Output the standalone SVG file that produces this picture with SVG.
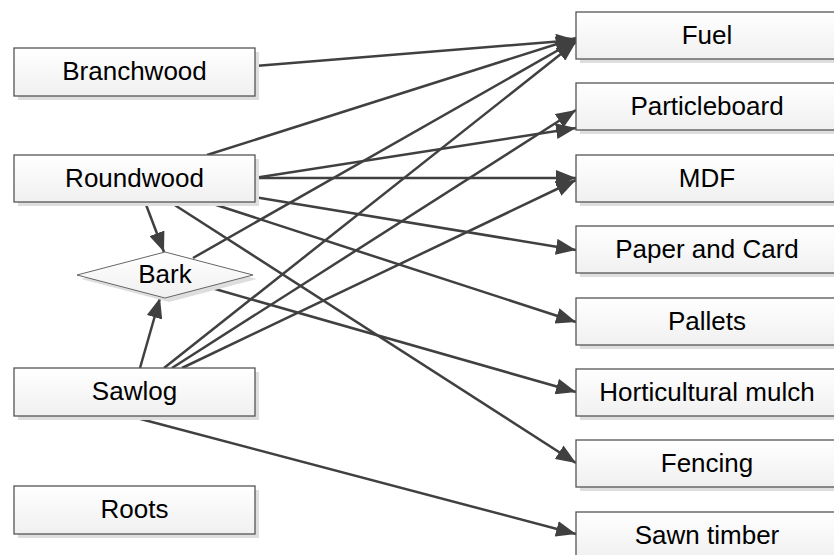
<svg xmlns="http://www.w3.org/2000/svg" width="834" height="555" viewBox="0 0 834 555">
<defs>
<linearGradient id="g" x1="0" y1="0" x2="0" y2="1">
<stop offset="0" stop-color="#ffffff"/>
<stop offset="1" stop-color="#f0f0f0"/>
</linearGradient>
<marker id="ah" markerUnits="userSpaceOnUse" markerWidth="22" markerHeight="16" refX="20" refY="8" orient="auto">
<path d="M0,0 L20,8 L0,16 z" fill="#404040"/>
</marker>
</defs>
<style>
.box{fill:url(#g);stroke:#555;stroke-width:1.3}
.sh{fill:#dedede}
.t{font-family:"Liberation Sans",Arial,sans-serif;font-size:26px;fill:#000;text-anchor:middle}
.e{fill:none;stroke:#404040;stroke-width:2.5;marker-end:url(#ah)}
</style>
<rect width="834" height="555" fill="#fff"/>
<g id="connectors">
<line class="e" x1="255" y1="66" x2="576" y2="40"/>
<line class="e" x1="207" y1="155" x2="576" y2="38"/>
<line class="e" x1="254" y1="178" x2="576" y2="128"/>
<line class="e" x1="254" y1="178" x2="576" y2="178"/>
<line class="e" x1="254" y1="197" x2="576" y2="250"/>
<line class="e" x1="207" y1="202" x2="576" y2="322"/>
<line class="e" x1="170" y1="202" x2="576" y2="463"/>
<line class="e" x1="145" y1="202" x2="164" y2="252"/>
<line class="e" x1="193" y1="258" x2="576" y2="40"/>
<line class="e" x1="208" y1="287" x2="576" y2="392"/>
<line class="e" x1="140" y1="368" x2="160" y2="298"/>
<line class="e" x1="164" y1="368" x2="576" y2="42"/>
<line class="e" x1="172" y1="368" x2="576" y2="110"/>
<line class="e" x1="182" y1="368" x2="576" y2="180"/>
<line class="e" x1="133" y1="417" x2="576" y2="534"/>
</g>
<g id="branchwood"><rect class="sh" x="18" y="52" width="241" height="48"/><rect class="box" x="14" y="48" width="241" height="48"/><text class="t" x="134.5" y="80">Branchwood</text></g>
<g id="roundwood"><rect class="sh" x="18" y="159" width="241" height="47"/><rect class="box" x="14" y="155" width="241" height="47"/><text class="t" x="134.5" y="187">Roundwood</text></g>
<g id="sawlog"><rect class="sh" x="18" y="372" width="241" height="48"/><rect class="box" x="14" y="368" width="241" height="48"/><text class="t" x="134.5" y="400">Sawlog</text></g>
<g id="roots"><rect class="sh" x="18" y="490" width="241" height="48"/><rect class="box" x="14" y="486" width="241" height="48"/><text class="t" x="134.5" y="518">Roots</text></g>
<g id="bark"><polygon points="169,256 257,279 169,302 81,279" fill="#dedede"/><polygon points="165,252 253,275 165,298 77,275" fill="url(#g)" stroke="#666" stroke-width="1"/><text class="t" x="165" y="283">Bark</text></g>
<g id="fuel"><rect class="sh" x="580" y="16" width="262" height="47"/><rect class="box" x="576" y="12" width="262" height="47"/><text class="t" x="707" y="44">Fuel</text></g>
<g id="particleboard"><rect class="sh" x="580" y="87" width="262" height="47"/><rect class="box" x="576" y="83" width="262" height="47"/><text class="t" x="707" y="115">Particleboard</text></g>
<g id="mdf"><rect class="sh" x="580" y="159" width="262" height="47"/><rect class="box" x="576" y="155" width="262" height="47"/><text class="t" x="707" y="187">MDF</text></g>
<g id="paper"><rect class="sh" x="580" y="230" width="262" height="47"/><rect class="box" x="576" y="226" width="262" height="47"/><text class="t" x="707" y="258">Paper and Card</text></g>
<g id="pallets"><rect class="sh" x="580" y="302" width="262" height="47"/><rect class="box" x="576" y="298" width="262" height="47"/><text class="t" x="707" y="330">Pallets</text></g>
<g id="mulch"><rect class="sh" x="580" y="373" width="262" height="47"/><rect class="box" x="576" y="369" width="262" height="47"/><text class="t" x="707" y="401">Horticultural mulch</text></g>
<g id="fencing"><rect class="sh" x="580" y="444" width="262" height="47"/><rect class="box" x="576" y="440" width="262" height="47"/><text class="t" x="707" y="472">Fencing</text></g>
<g id="sawn"><rect class="sh" x="580" y="516" width="262" height="47"/><rect class="box" x="576" y="512" width="262" height="47"/><text class="t" x="707" y="544">Sawn timber</text></g>
</svg>
